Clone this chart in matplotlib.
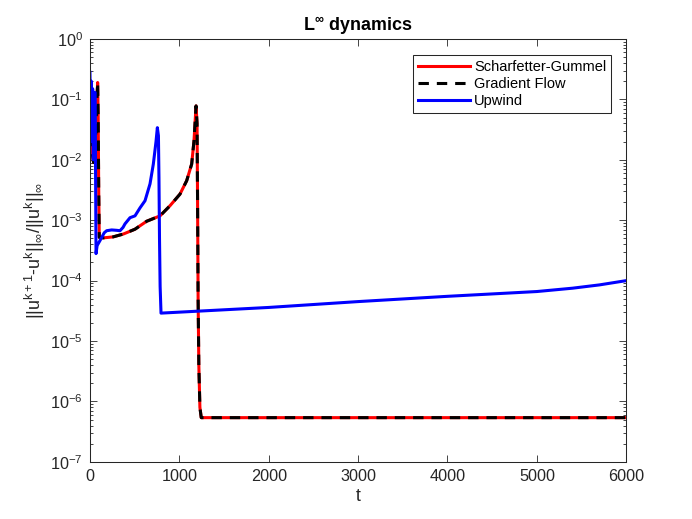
import matplotlib
matplotlib.use('Agg')
import matplotlib.pyplot as plt
from matplotlib.ticker import NullFormatter, FixedLocator, LogFormatterSciNotation

plt.rcParams['font.family'] = ['Liberation Sans', 'DejaVu Sans']
plt.rcParams['mathtext.fontset'] = 'custom'
plt.rcParams['mathtext.rm'] = 'Liberation Sans'
plt.rcParams['mathtext.it'] = 'Liberation Sans'
plt.rcParams['mathtext.bf'] = 'Liberation Sans:bold'
plt.rcParams['mathtext.default'] = 'regular'

# Scharfetter-Gummel (Gradient Flow lies on top of it)
t_sg = [0, 20, 40, 60, 75, 86, 92, 98, 104, 150, 260, 373, 504, 634, 784, 896,
        1007, 1082, 1138, 1164, 1187, 1198, 1204, 1210, 1218, 1230, 1245, 6000]
sg_vals = [0.05, 0.015, 0.009, 0.015, 0.08, 0.19, 0.05, 0.003, 5.2e-4, 5.1e-4,
           5.3e-4, 5.9e-4, 7.1e-4, 9.6e-4, 1.18e-3, 1.74e-3, 2.7e-3, 4.5e-3,
           8.5e-3, 0.0206, 0.078, 0.04, 2e-3, 5e-5, 4e-6, 8e-7, 5.4e-7, 5.4e-7]

t_gf = t_sg
gf_vals = sg_vals

# Upwind
t_up = [0, 8, 15, 22, 30, 38, 45, 58, 63, 68, 80, 112, 160, 187, 243, 300, 336,
        370, 392, 448, 504, 560, 616, 672, 709, 739, 754, 766, 772, 778, 785,
        795, 2000, 3000, 4000, 5000, 5400, 5700, 6000]
up_vals = [0.28, 0.03, 0.2, 0.02, 0.15, 0.01, 0.13, 0.13, 0.005, 2.8e-4, 3.8e-4,
           4.6e-4, 6.2e-4, 6.7e-4, 6.9e-4, 6.8e-4, 6.7e-4, 7.6e-4, 8.7e-4, 1.1e-3,
           1.18e-3, 1.6e-3, 2.1e-3, 4e-3, 8.5e-3, 0.02, 0.034, 0.025, 5e-3,
           5e-4, 8e-5, 2.9e-5, 3.6e-5, 4.5e-5, 5.5e-5, 6.6e-5, 7.5e-5, 8.5e-5, 1.0e-4]

x_ticks = [0, 1000, 2000, 3000, 4000, 5000, 6000]
y_exps = [-7, -6, -5, -4, -3, -2, -1, 0]

fig = plt.figure(figsize=(6.92, 5.19), dpi=100)
ax = fig.add_axes([0.13, 0.11, 0.775, 0.815])

ax.plot(t_sg, sg_vals, color='#ff0000', linewidth=2.2, label='Scharfetter-Gummel')
ax.plot(t_gf, gf_vals, color='black', linewidth=2.2, dashes=(3.4, 2.6), label='Gradient Flow')
ax.plot(t_up, up_vals, color='#0000ff', linewidth=2.2, label='Upwind')

ax.set_yscale('log')
ax.set_xlim(0, 6000)
ax.set_ylim(1e-7, 1)
ax.xaxis.set_major_locator(FixedLocator(x_ticks))
ax.yaxis.set_major_locator(FixedLocator([10.0 ** e for e in y_exps]))
ax.yaxis.set_major_formatter(LogFormatterSciNotation())
minor = [m * 10.0 ** e for e in y_exps[:-1] for m in range(2, 10)]
ax.yaxis.set_minor_locator(FixedLocator(minor))
ax.yaxis.set_minor_formatter(NullFormatter())

ax.tick_params(which='both', direction='in', top=True, right=True,
               colors='#262626', labelsize=11.7, width=0.6)
ax.tick_params(which='major', length=5, pad=5)
ax.tick_params(which='minor', length=2.5)
for s in ax.spines.values():
    s.set_color('#262626')
    s.set_linewidth(0.75)

ax.set_title(r'L$^{\infty}$ dynamics', fontsize=12.9, fontweight='bold', pad=6)
ax.set_xlabel('t', fontsize=12.9, color='#262626', labelpad=3)
ax.set_ylabel(r'$||u^{k+1}$-$u^{k}||_{\infty}/||u^{k}||_{\infty}$', fontsize=12.9,
              color='#262626', labelpad=2)

leg = ax.legend(loc='upper right', bbox_to_anchor=(0.972, 0.962), borderaxespad=0,
                fontsize=10.5, handlelength=3.5, handletextpad=0.3, borderpad=0.35,
                labelspacing=0.2, fancybox=False, framealpha=1, edgecolor='#262626')
leg.get_frame().set_linewidth(0.75)

fig.patch.set_facecolor('white')
fig.savefig('out.png', dpi=100)
